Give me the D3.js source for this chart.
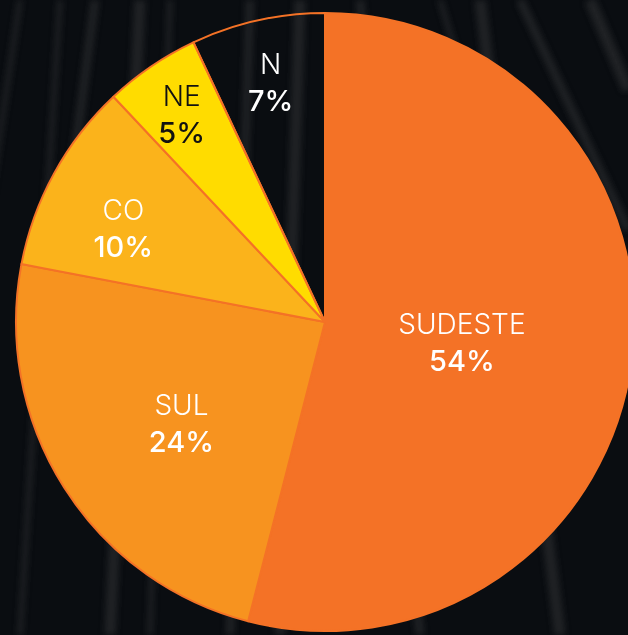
<!DOCTYPE html>
<html>
<head>
<meta charset="utf-8">
<script src="https://cdn.jsdelivr.net/npm/d3@7"></script>
<style>
  html, body { margin: 0; padding: 0; background: #0a0d11; overflow: hidden; }
  .name { font-family: Inter, "Open Sans", sans-serif; font-weight: 300; font-size: 28px; }
  .pct { font-family: Inter, "Open Sans", sans-serif; font-weight: 500; font-size: 29px; }
</style>
</head>
<body>
<div class="chart"></div>
<script>
var regions = ["SUDESTE", "SUL", "CO", "NE", "N"];
var shares = [54, 24, 10, 5, 7];
var fills = ["#f47226", "#f7931f", "#fbb31b", "#ffdc00", "none"];
var textColors = ["#ffffff", "#ffffff", "#ffffff", "#111111", "#ffffff"];
// label placement: distance from centre and small angle nudge (degrees)
var labelRadius = [138, 174, 224, 255, 249];
var labelNudge = [0, -2, -3, 0, 0];

var svgWidth = 628;
var svgHeight = 635;
var cx = 325, cy = 322, radius = 309;

var svg = d3.select(".chart")
  .append("svg")
  .attr("width", svgWidth)
  .attr("height", svgHeight);

// dark streaky backdrop
var defs = svg.append("defs");
defs.append("filter").attr("id", "blur")
  .append("feGaussianBlur").attr("stdDeviation", 3);

svg.append("rect")
  .attr("width", svgWidth)
  .attr("height", svgHeight)
  .attr("fill", "#0a0d11");

var streaks = [
  [20, 40, -10, 200], [95, 130, 40, 420], [140, 170, 110, 635], [170, 210, 150, 635],
  [250, 270, 230, 635], [300, 330, 280, 635], [440, 470, 500, 200], [520, 560, 628, 230],
  [590, 620, 628, 90], [60, 90, 20, 635], [360, 380, 420, 635], [480, 500, 560, 635]
];
svg.append("g")
  .attr("filter", "url(#blur)")
  .selectAll("line")
  .data(streaks)
  .enter().append("line")
    .attr("x1", function(d) { return d[0]; })
    .attr("y1", 0)
    .attr("x2", function(d) { return d[2]; })
    .attr("y2", function(d) { return d[3]; })
    .attr("stroke", "#555555")
    .attr("stroke-width", function(d, i) { return 5 + (i % 3) * 3; })
    .attr("opacity", 0.3);

var chart = svg.append("g")
  .attr("transform", "translate(" + cx + "," + cy + ")");

var pie = d3.pie().sort(null).value(function(d) { return d; });
var arcs = pie(shares);

var arc = d3.arc().innerRadius(0).outerRadius(radius);

chart.selectAll("path")
  .data(arcs)
  .enter().append("path")
    .attr("d", arc)
    .attr("fill", function(d, i) { return fills[i]; })
    .attr("stroke", "#f47226")
    .attr("stroke-width", 2)
    .attr("stroke-linejoin", "round");

var labels = chart.selectAll("g.label")
  .data(arcs)
  .enter().append("g")
    .attr("class", "label")
    .attr("transform", function(d, i) {
      var a = (d.startAngle + d.endAngle) / 2 + labelNudge[i] * Math.PI / 180;
      var x = Math.sin(a) * labelRadius[i];
      var y = -Math.cos(a) * labelRadius[i];
      return "translate(" + x + "," + y + ")";
    });

labels.append("text")
  .attr("class", "name")
  .attr("text-anchor", "middle")
  .attr("y", -5)
  .attr("fill", function(d, i) { return textColors[i]; })
  .text(function(d, i) { return regions[i]; });

labels.append("text")
  .attr("class", "pct")
  .attr("text-anchor", "middle")
  .attr("y", 32)
  .attr("fill", function(d, i) { return textColors[i]; })
  .text(function(d) { return d.data + "%"; });
</script>
</body>
</html>
